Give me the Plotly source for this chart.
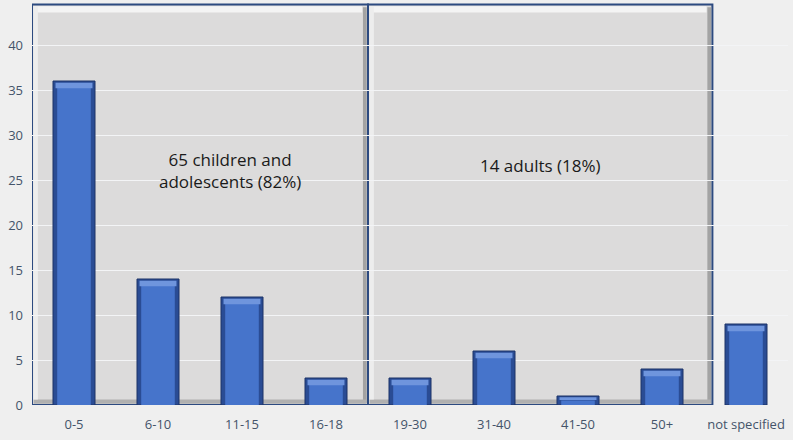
import plotly.graph_objects as go

categories = ["0-5", "6-10", "11-15", "16-18", "19-30", "31-40", "41-50", "50+", "not specified"]
counts = [36, 14, 12, 3, 3, 6, 1, 4, 9]

group_labels = ["65 children and<br>adolescents (82%)", "14 adults (18%)"]
group_first = ["0-5", "19-30"]
group_last = ["16-18", "50+"]
y_ticks = [0, 5, 10, 15, 20, 25, 30, 35, 40]

idx = {c: i for i, c in enumerate(categories)}
fig = go.Figure()

FONT = "Open Sans, Liberation Sans, sans-serif"

# bevelled bars: dark body, lighter core, highlight at top
fig.add_trace(go.Bar(x=categories, y=counts, width=0.5, marker=dict(color="#2a4c94", line=dict(color="#1c3366", width=1)),
                     hoverinfo="skip", showlegend=False))
fig.add_trace(go.Bar(x=categories, y=[v - 0.5 for v in counts], width=0.4,
                     marker=dict(color="#4674cb", line=dict(width=0)), hoverinfo="skip", showlegend=False))
fig.add_trace(go.Bar(x=categories, y=[0.6 if v > 1 else 0.3 for v in counts],
                     base=[v - (0.8 if v > 1 else 0.45) for v in counts], width=0.44,
                     marker=dict(color="#6f95dd", line=dict(width=0)), hoverinfo="skip", showlegend=False))

shapes = []
annotations = []
top = 44.5
label_pos = [(0.36, 26.1), (0.0, 26.6)]
for (lab, a, b), (dx, ly) in zip(zip(group_labels, group_first, group_last), label_pos):
    x0 = idx[a] - 0.5
    x1 = idx[b] + 0.5 + (0.1 if idx[b] == 7 else 0.0)
    shapes.append(dict(type="rect", xref="x", yref="y", x0=x0, x1=x1, y0=0, y1=top,
                       fillcolor="#dcdbdb", line=dict(color="#2c4a80", width=2), layer="below"))
    # inner bevel: right shadow, bottom shadow, top highlight, left highlight
    shapes.append(dict(type="rect", xref="x", yref="y", x0=x1 - 0.06, x1=x1 - 0.015, y0=0.2, y1=top - 0.3,
                       fillcolor="#a3a3a3", line=dict(width=0), layer="below"))
    shapes.append(dict(type="rect", xref="x", yref="y", x0=x0 + 0.02, x1=x1 - 0.02, y0=0.15, y1=0.6,
                       fillcolor="#b0b0b0", line=dict(width=0), layer="below"))
    shapes.append(dict(type="rect", xref="x", yref="y", x0=x0 + 0.02, x1=x1 - 0.07, y0=top - 0.9, y1=top - 0.2,
                       fillcolor="#f4f4f4", line=dict(width=0), layer="below"))
    shapes.append(dict(type="rect", xref="x", yref="y", x0=x0 + 0.015, x1=x0 + 0.07, y0=0.6, y1=top - 0.2,
                       fillcolor="#ededed", line=dict(width=0), layer="below"))
    annotations.append(dict(x=(x0 + x1) / 2 + dx, y=ly, xref="x", yref="y",
                            text=lab, showarrow=False,
                            font=dict(family=FONT, size=17, color="#1a1a1a")))

fig.update_layout(
    width=793, height=440,
    margin=dict(l=32, r=5, t=0, b=35),
    paper_bgcolor="#efefef",
    plot_bgcolor="rgba(0,0,0,0)",
    barmode="overlay",
    shapes=shapes,
    annotations=annotations,
    xaxis=dict(type="category", categoryorder="array", categoryarray=categories, range=[-0.5, 8.5],
               showgrid=False, zeroline=False, showline=False, ticks="", ticklabelstandoff=10,
               tickfont=dict(family=FONT, size=13, color="#44546a")),
    yaxis=dict(range=[0, 45], tickvals=y_ticks, showgrid=True, gridcolor="#f3f4f6", gridwidth=1,
               zeroline=False, showline=False, ticks="", ticklabelstandoff=8,
               tickfont=dict(family=FONT, size=13, color="#44546a")),
    bargap=0.5,
)

fig.write_html("out.html")
